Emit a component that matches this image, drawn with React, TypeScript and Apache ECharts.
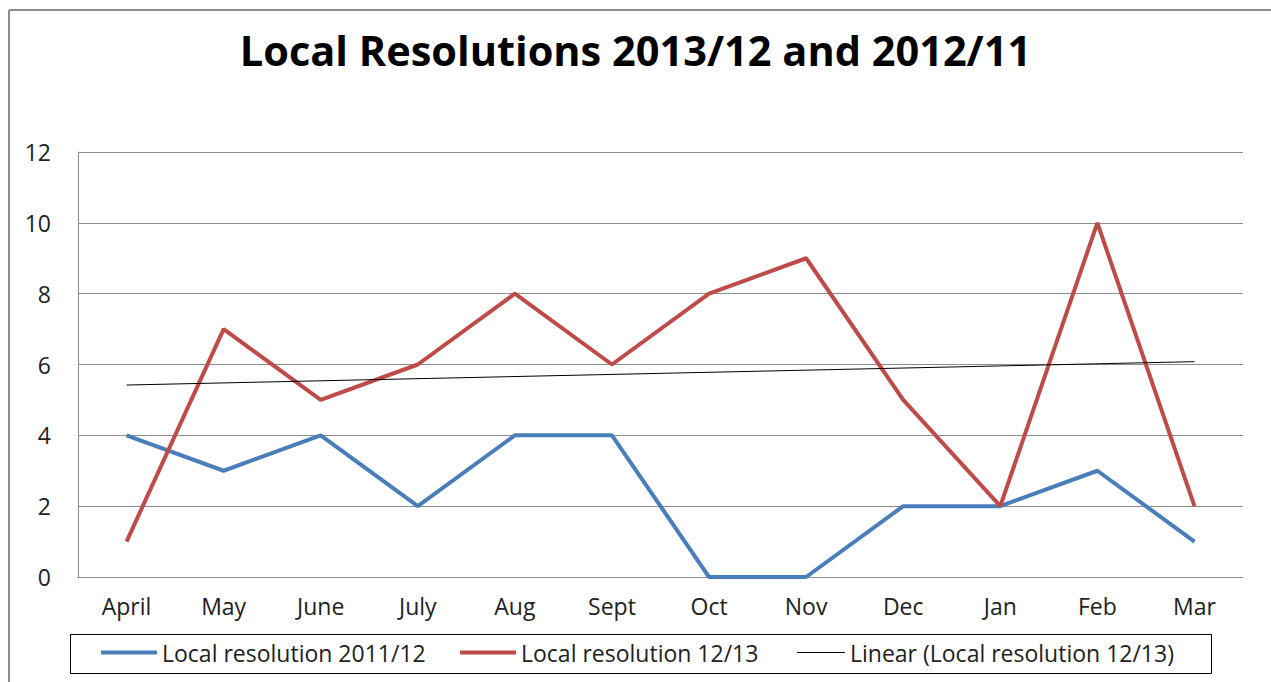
import React, { useEffect, useRef } from "react";
import * as echarts from "echarts";

const months = ["April", "May", "June", "July", "Aug", "Sept", "Oct", "Nov", "Dec", "Jan", "Feb", "Mar"];
const res2011 = [4, 3, 4, 2, 4, 4, 0, 0, 2, 2, 3, 1];
const res1213 = [1, 7, 5, 6, 8, 6, 8, 9, 5, 2, 10, 2];
const trendEnds = [5.42, 6.08];
const yTicks = { min: 0, max: 12, interval: 2 };
const seriesNames = ["Local resolution 2011/12", "Local resolution 12/13", "Linear (Local resolution 12/13)"];
const seriesColors = ["#4a7ebb", "#be4b48", "#000000"];

const FONT = "'Open Sans', 'Liberation Sans', sans-serif";

export default function App() {
  const ref = useRef<HTMLDivElement>(null);
  useEffect(() => {
    if (!ref.current) return;
    const chart = echarts.init(ref.current, undefined, { renderer: "svg" });
    const legendLefts = [101, 460, 797];
    const legendWidths = [56, 56, 48];
    chart.setOption({
      animation: false,
      backgroundColor: "#ffffff",
      textStyle: { fontFamily: FONT },
      title: {
        text: "Local Resolutions 2013/12 and 2012/11",
        left: "center",
        top: 29,
        padding: 0,
        textStyle: { fontFamily: FONT, fontWeight: "bold", fontSize: 41.5, color: "#000000" },
      },
      grid: { left: 78, top: 152, right: 28, bottom: 105, containLabel: false },
      xAxis: {
        type: "category",
        data: months,
        boundaryGap: true,
        axisLine: { show: true, lineStyle: { color: "#8c8c8c", width: 1 } },
        axisTick: { show: false },
        axisLabel: { color: "#222222", fontSize: 23, margin: 17, fontFamily: FONT },
        splitLine: { show: false },
      },
      yAxis: {
        type: "value",
        min: yTicks.min,
        max: yTicks.max,
        interval: yTicks.interval,
        axisLine: { show: true, lineStyle: { color: "#8c8c8c", width: 1 } },
        axisTick: { show: false },
        axisLabel: { color: "#222222", fontSize: 23, margin: 27, fontFamily: FONT },
        splitLine: { show: true, lineStyle: { color: "#8c8c8c", width: 1 } },
      },
      legend: seriesNames.map((name, i) => ({
        left: legendLefts[i],
        top: 641,
        padding: 0,
        itemWidth: legendWidths[i],
        itemHeight: i === 2 ? 1 : 4,
        icon: "rect",
        textStyle: { fontSize: 23, color: "#222222", fontFamily: FONT },
        data: [{ name, itemStyle: { color: seriesColors[i] } }],
      })),
      graphic: [
        {
          type: "line",
          shape: { x1: 9, y1: 10, x2: 1271, y2: 10 },
          style: { stroke: "#8a8a8a", lineWidth: 2 },
          silent: true,
        },
        {
          type: "line",
          shape: { x1: 9, y1: 10, x2: 9, y2: 682 },
          style: { stroke: "#8a8a8a", lineWidth: 2 },
          silent: true,
        },
        {
          type: "rect",
          shape: { x: 70.5, y: 634.5, width: 1141, height: 39 },
          style: { fill: "none", stroke: "#000000", lineWidth: 1 },
          silent: true,
          z: 0,
        },
      ],
      series: [
        {
          name: seriesNames[0],
          type: "line",
          data: res2011,
          symbol: "none",
          lineStyle: { color: seriesColors[0], width: 4 },
          itemStyle: { color: seriesColors[0] },
        },
        {
          name: seriesNames[1],
          type: "line",
          data: res1213,
          symbol: "none",
          lineStyle: { color: seriesColors[1], width: 4 },
          itemStyle: { color: seriesColors[1] },
        },
        {
          name: seriesNames[2],
          type: "line",
          data: [[0, trendEnds[0]], [months.length - 1, trendEnds[1]]],
          symbol: "none",
          lineStyle: { color: seriesColors[2], width: 1 },
          itemStyle: { color: seriesColors[2] },
        },
      ],
    });
    return () => chart.dispose();
  }, []);
  return (
    <div
      ref={ref}
      style={{ position: "absolute", left: 0, top: 0, width: 1271, height: 682 }}
    />
  );
}
